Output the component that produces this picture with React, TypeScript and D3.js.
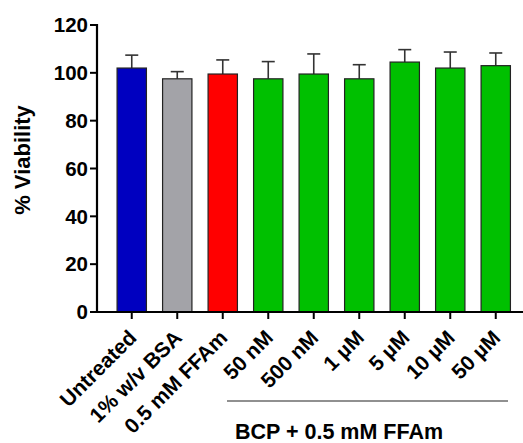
import React from "react";
import * as d3 from "d3";

const categories = ["Untreated", "1% w/v BSA", "0.5 mM FFAm", "50 nM", "500 nM", "1 µM", "5 µM", "10 µM", "50 µM"];
const means = [102, 97.5, 99.5, 97.5, 99.5, 97.5, 104.5, 102, 103];
const errors = [5.4, 3, 5.9, 7.2, 8.4, 5.9, 5.2, 6.7, 5.3];
const fills = ["#0000c0", "#a3a3a8", "#ff0000", "#00c000", "#00c000", "#00c000", "#00c000", "#00c000", "#00c000"];
const yTicks = [0, 20, 40, 60, 80, 100, 120];
const groupLabel = "BCP + 0.5 mM FFAm";
const yLabel = "% Viability";

const W = 523;
const H = 443;
const FONT = "'Liberation Sans', Arial, sans-serif";

export default function App() {
  const y = d3.scaleLinear().domain([0, 120]).range([312, 25]);
  const x = d3.scaleBand<string>().domain(categories).range([109, 518.5]).paddingInner(0.355).paddingOuter(0.1775);
  const axisX = 97;
  const bw = x.bandwidth();
  const cx = (c: string) => (x(c) as number) + bw / 2;
  const capHalf = 6.5;

  return (
    <svg width={W} height={H} style={{ position: "absolute", left: 0, top: 0, background: "#fff" }} fontFamily={FONT}>
      {categories.map((c, i) => (
        <g key={c}>
          <line x1={cx(c)} x2={cx(c)} y1={y(means[i])} y2={y(means[i] + errors[i])} stroke="#333" strokeWidth={1.6} />
          <line x1={cx(c) - capHalf} x2={cx(c) + capHalf} y1={y(means[i] + errors[i])} y2={y(means[i] + errors[i])} stroke="#333" strokeWidth={1.6} />
          <rect x={x(c) as number} y={y(means[i])} width={bw} height={y(0) - y(means[i])} fill={fills[i]} stroke="#222" strokeWidth={1.2} />
        </g>
      ))}
      <line x1={axisX} x2={axisX} y1={y(120) - 1} y2={y(0) + 1} stroke="#000" strokeWidth={2.2} />
      {yTicks.map((t) => (
        <g key={t}>
          <line x1={axisX - 7} x2={axisX} y1={y(t)} y2={y(t)} stroke="#000" strokeWidth={2} />
          <text x={axisX - 9} y={y(t)} dy="0.35em" textAnchor="end" fontSize={20.5} fontWeight="bold" fill="#000">{t}</text>
        </g>
      ))}
      <line x1={axisX - 1} x2={W} y1={y(0)} y2={y(0)} stroke="#000" strokeWidth={2.2} />
      {categories.map((c) => (
        <g key={"t" + c}>
          <line x1={cx(c)} x2={cx(c)} y1={y(0)} y2={y(0) + 7} stroke="#000" strokeWidth={2} />
          <text transform={`translate(${cx(c) + 6},339) rotate(-45)`} textAnchor="end" fontSize={21} fontWeight="bold" fill="#000">{c}</text>
        </g>
      ))}
      <line x1={227} x2={508} y1={401} y2={401} stroke="#222" strokeWidth={1.2} />
      <text x={339} y={439} textAnchor="middle" fontSize={21.5} fontWeight="bold" fill="#000">{groupLabel}</text>
      <text transform={`translate(30,160) rotate(-90)`} textAnchor="middle" fontSize={22} fontWeight="bold" fill="#000">{yLabel}</text>
    </svg>
  );
}
